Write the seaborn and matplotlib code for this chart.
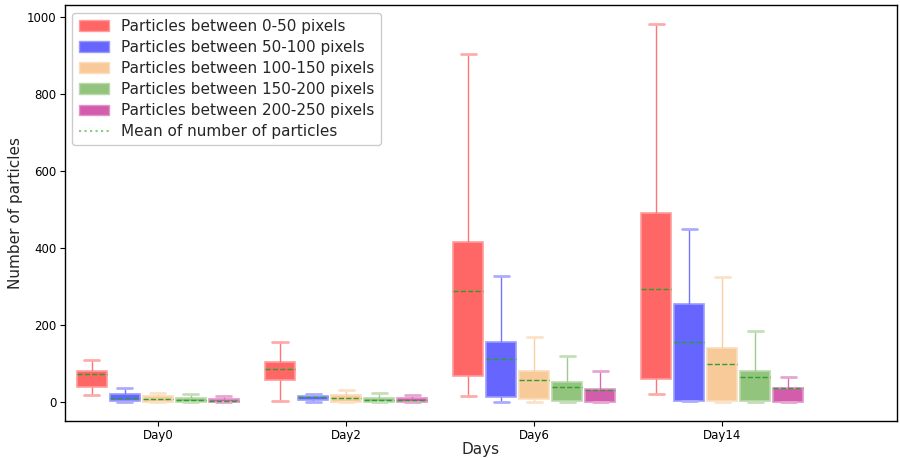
import numpy as np
import pandas as pd
import seaborn as sns
import matplotlib
matplotlib.use("Agg")
import matplotlib.pyplot as plt
from matplotlib.patches import Patch
from matplotlib.lines import Line2D
from matplotlib.colors import to_rgb

# ---------------- data ----------------
days = ["Day0", "Day2", "Day6", "Day14"]
sizes = [
    "Particles between 0-50 pixels",
    "Particles between 50-100 pixels",
    "Particles between 100-150 pixels",
    "Particles between 150-200 pixels",
    "Particles between 200-250 pixels",
]
# rows: size classes, columns: days
whisker_low = [
    [19, 2, 16, 20],
    [0, 0, 1, 2],
    [0, 0, 1, 1],
    [0, 0, 1, 1],
    [0, 0, 0, 0],
]
quartile_1 = [
    [40, 56, 67, 61],
    [3, 4, 12, 3],
    [1, 1, 7, 2],
    [0, 0, 3, 3],
    [0, 0, 0, 0],
]
mean_count = [
    [74, 85, 288, 293],
    [11, 14, 111, 155],
    [8, 10, 57, 100],
    [6, 6, 39, 64],
    [3.5, 6, 30, 36],
]
quartile_3 = [
    [80, 104, 415, 491],
    [21, 16, 157, 254],
    [16, 18, 80, 140],
    [10, 11, 53, 80],
    [8, 10, 33, 37],
]
whisker_high = [
    [108, 156, 905, 983],
    [36, 21, 328, 450],
    [23, 30, 169, 326],
    [20, 24, 120, 184],
    [16, 17, 80, 65],
]
mean_label = "Mean of number of particles"

# ---------------- styling ----------------
fill_colors = ["#FF6666", "#6666FF", "#F8CA9A", "#93C47D", "#D35CAC"]


def lighten(c, f):
    r, g, b = to_rgb(c)
    return (r + (1 - r) * f, g + (1 - g) * f, b + (1 - b) * f)


rows = []
for i, s in enumerate(sizes):
    for j, d in enumerate(days):
        for v in (whisker_low[i][j], quartile_1[i][j], mean_count[i][j],
                  quartile_3[i][j], whisker_high[i][j]):
            rows.append({"Day": d, "Size": s, "Count": v})
df = pd.DataFrame(rows)

sns.set_theme(style="ticks")
plt.rcParams["font.family"] = ["DejaVu Sans"]

fig, ax = plt.subplots(figsize=(9, 4.58), dpi=100)
fig.subplots_adjust(left=0.072, right=0.997, top=0.989, bottom=0.081)

sns.boxplot(
    data=df, x="Day", y="Count", hue="Size",
    order=days, hue_order=sizes, palette=fill_colors,
    whis=(0, 100), width=0.8775, gap=0.088, saturation=1,
    showfliers=False, linewidth=1, legend=False,
    medianprops=dict(color="#2ca02c", linestyle="--", linewidth=1),
    ax=ax,
)

for cont, col in zip(ax.containers, fill_colors):
    for box in cont.boxes:
        box.set_facecolor(col)
        box.set_edgecolor(lighten(col, 0.35))
        box.set_linewidth(1.2)
    for w in cont.whiskers:
        w.set_color(lighten(col, 0.1))
        w.set_linewidth(1.0)
    for c in cont.caps:
        c.set_color(lighten(col, 0.45))
        c.set_linewidth(2)
    for m in cont.medians:
        m.set_color("#2ca02c")
        m.set_linestyle("--")
        m.set_linewidth(1)

ax.set_xlim(-0.495, 3.93)
ax.set_yticks([0, 200, 400, 600, 800, 1000])
ax.tick_params(axis="both", labelsize=8.5, length=3.5, width=0.8, colors="black", pad=2.5)
for sp in ax.spines.values():
    sp.set_visible(True)
    sp.set_color("black")
    sp.set_linewidth(1)

ax.set_xlabel("Days", fontsize=11, labelpad=0)
ax.set_ylabel("Number of particles", fontsize=11, labelpad=3)

handles = [Patch(facecolor=c, edgecolor=lighten(c, 0.35)) for c in fill_colors]
handles.append(Line2D([0], [0], color="#7fd07f", linestyle=":", linewidth=1.5))
ax.legend(handles, sizes + [mean_label], loc="upper left", fontsize=11,
          labelspacing=0.4, frameon=True, framealpha=1, edgecolor="#cccccc")

fig.savefig("out.png", dpi=100)
